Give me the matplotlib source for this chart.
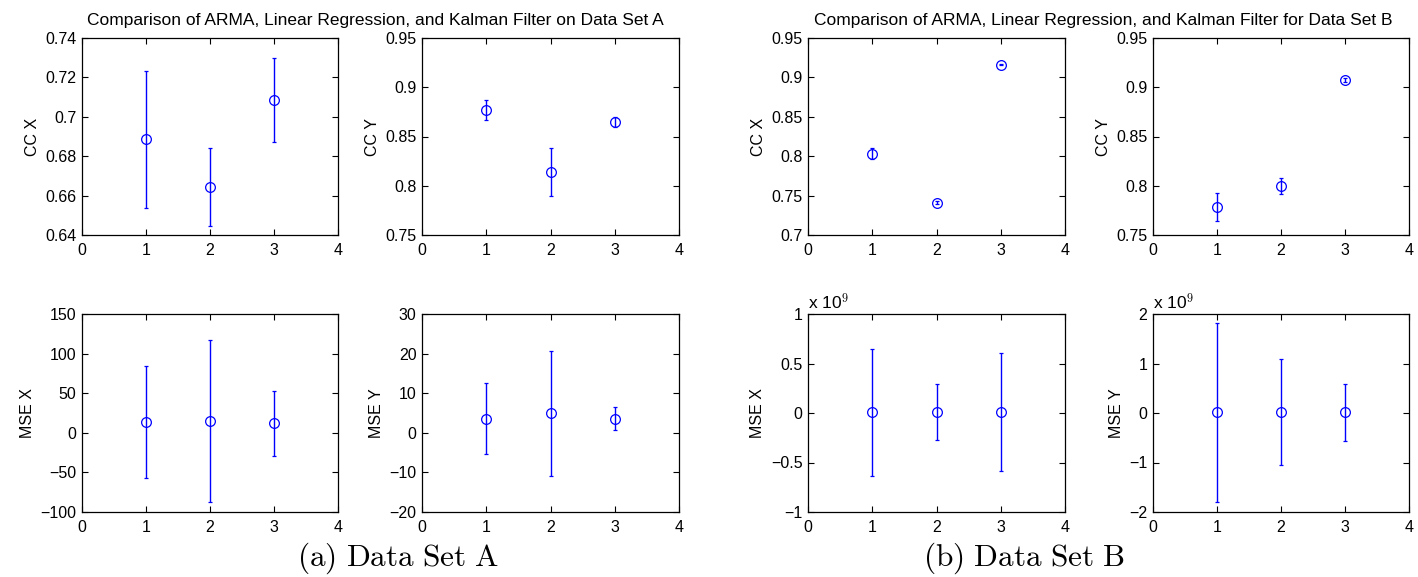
import matplotlib
matplotlib.use("Agg")
import matplotlib.pyplot as plt
from matplotlib.ticker import FuncFormatter, FixedLocator
import numpy as np

plt.rcParams['font.family'] = ['Liberation Sans', 'DejaVu Sans']
plt.rcParams['mathtext.fontset'] = 'cm'

methods = [1, 2, 3]  # ARMA, Linear Regression, Kalman Filter

# Data Set A
a_ccx_mean = [0.6887, 0.6642, 0.7084]
a_ccx_err = [0.0348, 0.0198, 0.0214]
a_ccy_mean = [0.8772, 0.8140, 0.8647]
a_ccy_err = [0.0103, 0.0240, 0.0050]
a_msex_mean = [13.5, 15.2, 11.9]
a_msex_err = [71.0, 102.0, 41.0]
a_msey_mean = [3.6, 4.96, 3.6]
a_msey_err = [8.9, 15.8, 2.9]

# Data Set B
b_ccx_mean = [0.8032, 0.7410, 0.9163]
b_ccx_err = [0.0070, 0.0020, 0.0010]
b_ccy_mean = [0.7783, 0.7998, 0.9073]
b_ccy_err = [0.0140, 0.0080, 0.0020]
b_msex_mean = [0.0085e9, 0.0085e9, 0.0085e9]
b_msex_err = [0.64e9, 0.28e9, 0.595e9]
b_msey_mean = [0.015e9, 0.015e9, 0.015e9]
b_msey_err = [1.81e9, 1.07e9, 0.58e9]

title_a = "Comparison of ARMA, Linear Regression, and Kalman Filter on Data Set A"
title_b = "Comparison of ARMA, Linear Regression, and Kalman Filter for Data Set B"

W, H = 1418, 577
fig = plt.figure(figsize=(W / 100, H / 100), dpi=100)

def px_axes(x0, x1, y0, y1):
    return fig.add_axes([x0 / W, 1 - y1 / H, (x1 - x0) / W, (y1 - y0) / H])

fmt_g = FuncFormatter(lambda v, p: ('%g' % v).replace('-', '\u2212'))
fmt_e9 = FuncFormatter(lambda v, p: ('%g' % (v / 1e9)).replace('-', '\u2212'))

def panel(ax, mean, err, ylim, yticks, ylabel, sci=False):
    ax.errorbar(methods, mean, yerr=err, fmt='o', color='#0000ff', mfc='none',
                ms=7, mew=0.9, elinewidth=1.0, capsize=1.5, capthick=1.0)
    ax.set_xlim(0, 4)
    ax.set_ylim(*ylim)
    ax.xaxis.set_major_locator(FixedLocator([0, 1, 2, 3, 4]))
    ax.yaxis.set_major_locator(FixedLocator(yticks))
    ax.xaxis.set_major_formatter(fmt_g)
    ax.yaxis.set_major_formatter(fmt_e9 if sci else fmt_g)
    ax.tick_params(direction='in', length=4, width=0.8, top=True, right=True,
                   labelsize=11.5, colors='black')
    ax.tick_params(axis='x', pad=6)
    ax.tick_params(axis='y', pad=4)
    for s in ax.spines.values():
        s.set_linewidth(0.9)
    ax.set_ylabel(ylabel, fontsize=11.5, labelpad=4)
    if sci:
        ax.text(0.0, 1.01, r'x 10$^{9}$', transform=ax.transAxes, fontsize=12.5,
                ha='left', va='bottom')

# Columns (pixel x ranges) and rows (pixel y ranges)
colA1, colA2, colB1, colB2 = (82, 338), (422, 679), (808, 1065), (1153, 1409)
rowT, rowB = (38, 235), (314, 512)

ax = px_axes(*colA1, *rowT)
panel(ax, a_ccx_mean, a_ccx_err, (0.64, 0.74), [0.64, 0.66, 0.68, 0.70, 0.72, 0.74], 'CC X')
ax = px_axes(*colA2, *rowT)
panel(ax, a_ccy_mean, a_ccy_err, (0.75, 0.95), [0.75, 0.80, 0.85, 0.90, 0.95], 'CC Y')
ax = px_axes(*colA1, *rowB)
panel(ax, a_msex_mean, a_msex_err, (-100, 150), [-100, -50, 0, 50, 100, 150], 'MSE X')
ax = px_axes(*colA2, *rowB)
panel(ax, a_msey_mean, a_msey_err, (-20, 30), [-20, -10, 0, 10, 20, 30], 'MSE Y')

ax = px_axes(*colB1, *rowT)
panel(ax, b_ccx_mean, b_ccx_err, (0.70, 0.95), [0.70, 0.75, 0.80, 0.85, 0.90, 0.95], 'CC X')
ax = px_axes(*colB2, *rowT)
panel(ax, b_ccy_mean, b_ccy_err, (0.75, 0.95), [0.75, 0.80, 0.85, 0.90, 0.95], 'CC Y')
ax = px_axes(*colB1, *rowB)
panel(ax, b_msex_mean, b_msex_err, (-1e9, 1e9), [-1e9, -0.5e9, 0, 0.5e9, 1e9], 'MSE X', sci=True)
ax = px_axes(*colB2, *rowB)
panel(ax, b_msey_mean, b_msey_err, (-2e9, 2e9), [-2e9, -1e9, 0, 1e9, 2e9], 'MSE Y', sci=True)

fig.text(375 / W, 1 - 20 / H, title_a, ha='center', va='center', fontsize=12.5,
         family=['Liberation Sans Narrow', 'Liberation Sans', 'DejaVu Sans'])
fig.text(1103 / W, 1 - 20 / H, title_b, ha='center', va='center', fontsize=12.5,
         family=['Liberation Sans Narrow', 'Liberation Sans', 'DejaVu Sans'])

fig.text(398 / W, 1 - 558 / H, r'$\mathrm{(a)\ Data\ Set\ A}$', ha='center', va='center', fontsize=22.5)
fig.text(1024 / W, 1 - 558 / H, r'$\mathrm{(b)\ Data\ Set\ B}$', ha='center', va='center', fontsize=22.5)

fig.savefig('out.png', dpi=100, facecolor='white')
